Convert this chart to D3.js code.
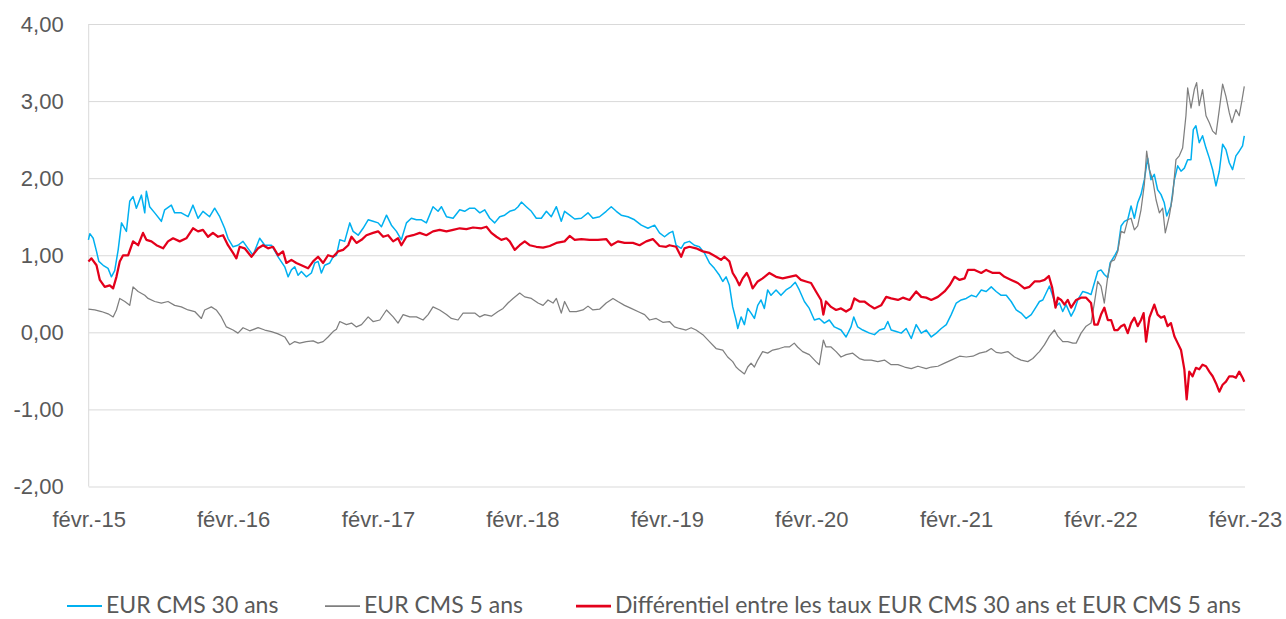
<!DOCTYPE html>
<html>
<head>
<meta charset="utf-8">
<script src="https://cdn.jsdelivr.net/npm/d3@7"></script>
<style>
  body { margin: 0; background: #fff; }
  svg { font-family: Lato, "Noto Sans", sans-serif; }
  .tick text { fill: #595959; }
</style>
</head>
<body>
<div id="chart"></div>
<script>
// series: [decimal year, rate %]
let cms30 = [
  [2015.083,1.20],[2015.093,1.28],[2015.116,1.22],[2015.139,1.05],[2015.155,0.92],[2015.185,0.87],
  [2015.219,0.83],[2015.242,0.72],[2015.265,0.80],[2015.289,1.07],[2015.312,1.42],[2015.346,1.31],
  [2015.369,1.70],[2015.392,1.76],[2015.415,1.61],[2015.450,1.78],[2015.473,1.55],[2015.484,1.83],
  [2015.507,1.63],[2015.542,1.55],[2015.588,1.44],[2015.611,1.59],[2015.657,1.65],[2015.680,1.55],
  [2015.726,1.55],[2015.773,1.50],[2015.807,1.65],[2015.842,1.48],[2015.876,1.57],[2015.922,1.50],
  [2015.957,1.61],[2015.992,1.50],[2016.026,1.35],[2016.049,1.22],[2016.084,1.11],[2016.118,1.13],
  [2016.153,1.18],[2016.187,1.09],[2016.222,1.00],[2016.268,1.22],[2016.303,1.13],[2016.349,1.13],
  [2016.395,0.98],[2016.441,0.85],[2016.464,0.72],[2016.487,0.81],[2016.510,0.85],[2016.533,0.74],
  [2016.556,0.79],[2016.590,0.72],[2016.625,0.77],[2016.648,0.90],[2016.671,0.92],[2016.694,0.77],
  [2016.717,0.87],[2016.752,0.90],[2016.775,0.98],[2016.798,1.00],[2016.821,1.20],[2016.855,1.18],
  [2016.890,1.42],[2016.913,1.31],[2016.948,1.26],[2016.982,1.35],[2017.017,1.46],[2017.051,1.44],
  [2017.086,1.42],[2017.109,1.37],[2017.144,1.52],[2017.178,1.39],[2017.213,1.31],[2017.247,1.20],
  [2017.282,1.42],[2017.316,1.48],[2017.351,1.46],[2017.386,1.46],[2017.420,1.42],[2017.466,1.63],
  [2017.501,1.57],[2017.524,1.63],[2017.559,1.50],[2017.605,1.48],[2017.651,1.59],[2017.685,1.57],
  [2017.720,1.61],[2017.755,1.61],[2017.790,1.55],[2017.824,1.59],[2017.859,1.48],[2017.893,1.42],
  [2017.928,1.50],[2017.962,1.52],[2017.997,1.57],[2018.032,1.59],[2018.055,1.63],[2018.078,1.69],
  [2018.112,1.63],[2018.147,1.57],[2018.181,1.48],[2018.216,1.48],[2018.251,1.57],[2018.285,1.50],
  [2018.320,1.63],[2018.354,1.44],[2018.377,1.57],[2018.412,1.52],[2018.447,1.47],[2018.493,1.48],
  [2018.539,1.55],[2018.573,1.48],[2018.619,1.50],[2018.665,1.57],[2018.700,1.63],[2018.735,1.57],
  [2018.769,1.52],[2018.815,1.50],[2018.861,1.46],[2018.908,1.39],[2018.954,1.35],[2019.000,1.39],
  [2019.034,1.29],[2019.069,1.24],[2019.103,1.29],[2019.126,1.31],[2019.149,1.13],[2019.184,1.09],
  [2019.207,1.16],[2019.241,1.18],[2019.276,1.13],[2019.310,1.11],[2019.345,1.03],[2019.380,0.90],
  [2019.414,0.83],[2019.449,0.74],[2019.472,0.66],[2019.495,0.72],[2019.518,0.61],[2019.541,0.33],
  [2019.564,0.16],[2019.576,0.05],[2019.599,0.20],[2019.622,0.10],[2019.645,0.31],[2019.668,0.25],
  [2019.691,0.18],[2019.714,0.35],[2019.737,0.42],[2019.760,0.31],[2019.783,0.55],[2019.806,0.48],
  [2019.841,0.55],[2019.875,0.48],[2019.910,0.55],[2019.944,0.59],[2019.974,0.65],[2020.002,0.55],
  [2020.037,0.40],[2020.071,0.31],[2020.106,0.16],[2020.140,0.18],[2020.175,0.12],[2020.209,0.16],
  [2020.244,0.07],[2020.290,0.03],[2020.325,-0.06],[2020.359,0.07],[2020.378,0.20],[2020.405,0.07],
  [2020.440,0.03],[2020.487,-0.01],[2020.521,-0.03],[2020.556,0.03],[2020.590,0.05],[2020.613,0.14],
  [2020.636,0.03],[2020.671,0.01],[2020.706,-0.01],[2020.740,0.05],[2020.775,-0.08],[2020.809,0.10],
  [2020.844,-0.01],[2020.878,0.03],[2020.913,-0.06],[2020.948,-0.01],[2020.982,0.05],[2021.017,0.10],
  [2021.051,0.23],[2021.086,0.38],[2021.120,0.42],[2021.155,0.44],[2021.190,0.48],[2021.224,0.46],
  [2021.259,0.55],[2021.293,0.53],[2021.328,0.59],[2021.362,0.53],[2021.397,0.48],[2021.432,0.48],
  [2021.466,0.40],[2021.501,0.29],[2021.535,0.25],[2021.570,0.18],[2021.605,0.23],[2021.639,0.33],
  [2021.662,0.40],[2021.685,0.42],[2021.708,0.51],[2021.731,0.60],[2021.754,0.47],[2021.777,0.34],
  [2021.800,0.38],[2021.823,0.27],[2021.846,0.36],[2021.881,0.21],[2021.904,0.29],[2021.927,0.42],
  [2021.962,0.53],[2021.996,0.51],[2022.019,0.49],[2022.042,0.64],[2022.065,0.79],[2022.088,0.81],
  [2022.111,0.75],[2022.135,0.71],[2022.151,0.90],[2022.181,0.99],[2022.204,1.07],[2022.227,1.38],
  [2022.250,1.44],[2022.273,1.46],[2022.296,1.64],[2022.319,1.48],[2022.342,1.68],[2022.365,1.79],
  [2022.388,1.98],[2022.411,2.26],[2022.434,1.98],[2022.457,2.05],[2022.480,1.85],[2022.503,1.79],
  [2022.526,1.68],[2022.543,1.51],[2022.572,1.64],[2022.596,1.98],[2022.619,2.16],[2022.642,2.09],
  [2022.665,2.13],[2022.688,2.24],[2022.711,2.24],[2022.727,2.63],[2022.745,2.68],[2022.768,2.46],
  [2022.791,2.55],[2022.815,2.39],[2022.838,2.26],[2022.861,2.11],[2022.884,1.90],[2022.907,2.09],
  [2022.930,2.44],[2022.953,2.37],[2022.976,2.20],[2022.999,2.11],[2023.022,2.29],[2023.045,2.35],
  [2023.068,2.42],[2023.080,2.55]
];

let cms5 = [
  [2015.083,0.30],[2015.127,0.29],[2015.173,0.27],[2015.219,0.24],[2015.254,0.20],[2015.277,0.29],
  [2015.300,0.44],[2015.335,0.40],[2015.369,0.35],[2015.392,0.59],[2015.427,0.53],[2015.473,0.48],
  [2015.496,0.44],[2015.542,0.40],[2015.588,0.38],[2015.634,0.40],[2015.680,0.35],[2015.726,0.33],
  [2015.773,0.29],[2015.819,0.27],[2015.865,0.18],[2015.888,0.29],[2015.934,0.33],[2015.968,0.29],
  [2016.003,0.20],[2016.038,0.07],[2016.084,0.03],[2016.118,-0.01],[2016.153,0.06],[2016.199,0.02],
  [2016.257,0.06],[2016.303,0.03],[2016.349,0.01],[2016.395,-0.02],[2016.441,-0.06],[2016.475,-0.16],
  [2016.510,-0.12],[2016.544,-0.14],[2016.590,-0.12],[2016.637,-0.11],[2016.671,-0.14],[2016.706,-0.12],
  [2016.740,-0.06],[2016.775,0.01],[2016.798,0.04],[2016.821,0.14],[2016.867,0.10],[2016.902,0.12],
  [2016.936,0.07],[2016.971,0.10],[2017.017,0.20],[2017.051,0.14],[2017.098,0.16],[2017.144,0.29],
  [2017.190,0.20],[2017.224,0.12],[2017.259,0.23],[2017.305,0.20],[2017.351,0.20],[2017.397,0.16],
  [2017.432,0.23],[2017.466,0.33],[2017.512,0.29],[2017.559,0.23],[2017.593,0.18],[2017.639,0.16],
  [2017.674,0.25],[2017.720,0.25],[2017.755,0.25],[2017.790,0.20],[2017.824,0.23],[2017.870,0.21],
  [2017.916,0.27],[2017.951,0.31],[2017.985,0.38],[2018.020,0.44],[2018.066,0.51],[2018.101,0.46],
  [2018.147,0.44],[2018.193,0.38],[2018.228,0.35],[2018.262,0.42],[2018.297,0.38],[2018.320,0.44],
  [2018.354,0.25],[2018.377,0.40],[2018.412,0.27],[2018.458,0.27],[2018.504,0.29],[2018.539,0.34],
  [2018.573,0.29],[2018.619,0.30],[2018.665,0.38],[2018.712,0.44],[2018.746,0.40],[2018.792,0.35],
  [2018.838,0.31],[2018.884,0.27],[2018.931,0.23],[2018.965,0.16],[2019.011,0.18],[2019.057,0.13],
  [2019.103,0.14],[2019.138,0.07],[2019.172,0.05],[2019.218,0.03],[2019.253,0.06],[2019.287,0.03],
  [2019.334,-0.03],[2019.380,-0.12],[2019.426,-0.21],[2019.472,-0.23],[2019.506,-0.32],[2019.541,-0.38],
  [2019.564,-0.45],[2019.587,-0.49],[2019.622,-0.54],[2019.645,-0.45],[2019.668,-0.40],[2019.691,-0.45],
  [2019.714,-0.36],[2019.748,-0.25],[2019.783,-0.27],[2019.818,-0.23],[2019.864,-0.21],[2019.898,-0.19],
  [2019.933,-0.19],[2019.967,-0.14],[2019.990,-0.19],[2020.025,-0.25],[2020.071,-0.29],[2020.117,-0.38],
  [2020.140,-0.42],[2020.168,-0.10],[2020.186,-0.19],[2020.221,-0.19],[2020.256,-0.25],[2020.290,-0.32],
  [2020.325,-0.29],[2020.371,-0.27],[2020.417,-0.34],[2020.451,-0.36],[2020.498,-0.36],[2020.544,-0.38],
  [2020.590,-0.36],[2020.636,-0.42],[2020.683,-0.42],[2020.729,-0.45],[2020.775,-0.47],[2020.821,-0.44],
  [2020.878,-0.47],[2020.913,-0.45],[2020.959,-0.44],[2021.005,-0.40],[2021.051,-0.36],[2021.109,-0.31],
  [2021.155,-0.32],[2021.201,-0.31],[2021.247,-0.27],[2021.293,-0.25],[2021.328,-0.21],[2021.362,-0.26],
  [2021.397,-0.27],[2021.443,-0.25],[2021.489,-0.32],[2021.535,-0.36],[2021.581,-0.38],[2021.616,-0.34],
  [2021.651,-0.27],[2021.662,-0.25],[2021.697,-0.16],[2021.731,-0.05],[2021.766,0.03],[2021.789,-0.05],
  [2021.823,-0.12],[2021.858,-0.12],[2021.893,-0.14],[2021.916,-0.14],[2021.950,-0.01],[2021.985,0.08],
  [2022.019,0.12],[2022.042,0.38],[2022.065,0.66],[2022.088,0.60],[2022.111,0.38],[2022.135,0.73],
  [2022.158,0.92],[2022.181,0.94],[2022.204,1.05],[2022.227,1.31],[2022.250,1.29],[2022.273,1.46],
  [2022.296,1.48],[2022.319,1.33],[2022.342,1.38],[2022.365,1.59],[2022.388,1.92],[2022.404,2.35],
  [2022.423,2.11],[2022.446,1.98],[2022.469,1.72],[2022.492,1.55],[2022.515,1.61],[2022.533,1.29],
  [2022.561,1.51],[2022.584,1.77],[2022.607,2.24],[2022.630,2.29],[2022.653,2.39],[2022.676,2.81],
  [2022.688,3.17],[2022.711,2.91],[2022.734,3.15],[2022.750,3.24],[2022.768,2.94],[2022.791,3.15],
  [2022.815,2.81],[2022.838,2.72],[2022.861,2.61],[2022.884,2.57],[2022.907,2.89],[2022.930,3.22],
  [2022.953,3.06],[2022.976,2.85],[2022.994,2.72],[2023.022,2.89],[2023.045,2.81],[2023.063,3.00],
  [2023.080,3.19]
];

let spread = [
  [2015.083,0.92],[2015.104,0.96],[2015.139,0.87],[2015.162,0.68],[2015.196,0.59],[2015.231,0.61],
  [2015.254,0.57],[2015.277,0.72],[2015.300,0.92],[2015.323,1.00],[2015.358,1.00],[2015.392,1.18],
  [2015.427,1.13],[2015.461,1.29],[2015.484,1.20],[2015.519,1.18],[2015.554,1.13],[2015.600,1.09],
  [2015.634,1.18],[2015.669,1.22],[2015.715,1.18],[2015.761,1.22],[2015.807,1.35],[2015.842,1.31],
  [2015.876,1.33],[2015.911,1.24],[2015.945,1.29],[2015.980,1.24],[2016.015,1.26],[2016.049,1.13],
  [2016.084,1.03],[2016.107,0.96],[2016.130,1.11],[2016.164,1.09],[2016.211,0.98],[2016.257,1.09],
  [2016.291,1.13],[2016.326,1.09],[2016.360,1.11],[2016.395,1.00],[2016.429,1.05],[2016.452,0.90],
  [2016.487,0.94],[2016.521,0.90],[2016.556,0.87],[2016.602,0.83],[2016.637,0.92],[2016.671,0.98],
  [2016.706,0.90],[2016.740,1.00],[2016.775,0.98],[2016.809,1.05],[2016.844,1.07],[2016.879,1.13],
  [2016.902,1.24],[2016.936,1.16],[2016.971,1.20],[2017.005,1.26],[2017.051,1.29],[2017.086,1.31],
  [2017.121,1.24],[2017.155,1.26],[2017.190,1.18],[2017.224,1.22],[2017.247,1.13],[2017.282,1.24],
  [2017.328,1.26],[2017.374,1.29],[2017.420,1.26],[2017.466,1.31],[2017.512,1.33],[2017.559,1.31],
  [2017.605,1.33],[2017.651,1.35],[2017.697,1.34],[2017.743,1.36],[2017.801,1.35],[2017.836,1.37],
  [2017.870,1.29],[2017.905,1.24],[2017.939,1.20],[2017.974,1.22],[2017.997,1.18],[2018.032,1.07],
  [2018.066,1.13],[2018.101,1.18],[2018.135,1.13],[2018.181,1.11],[2018.228,1.10],[2018.274,1.12],
  [2018.320,1.16],[2018.377,1.18],[2018.412,1.25],[2018.447,1.20],[2018.493,1.21],[2018.550,1.20],
  [2018.608,1.20],[2018.665,1.21],[2018.700,1.13],[2018.746,1.18],[2018.792,1.16],[2018.850,1.16],
  [2018.896,1.13],[2018.942,1.18],[2018.988,1.21],[2019.034,1.12],[2019.080,1.11],[2019.103,1.13],
  [2019.149,1.11],[2019.184,0.98],[2019.207,1.09],[2019.241,1.11],[2019.287,1.09],[2019.334,1.05],
  [2019.380,1.03],[2019.426,0.98],[2019.460,0.94],[2019.483,0.98],[2019.518,0.92],[2019.541,0.77],
  [2019.564,0.70],[2019.587,0.61],[2019.610,0.70],[2019.638,0.77],[2019.656,0.70],[2019.679,0.57],
  [2019.714,0.66],[2019.748,0.70],[2019.795,0.77],[2019.841,0.72],[2019.887,0.70],[2019.933,0.72],
  [2019.979,0.74],[2020.013,0.68],[2020.048,0.66],[2020.083,0.64],[2020.117,0.53],[2020.152,0.42],
  [2020.168,0.23],[2020.186,0.40],[2020.221,0.33],[2020.256,0.29],[2020.290,0.31],[2020.325,0.27],
  [2020.359,0.31],[2020.382,0.44],[2020.417,0.40],[2020.451,0.40],[2020.487,0.35],[2020.521,0.31],
  [2020.567,0.35],[2020.602,0.46],[2020.636,0.44],[2020.683,0.42],[2020.717,0.45],[2020.763,0.42],
  [2020.809,0.53],[2020.844,0.46],[2020.878,0.45],[2020.913,0.42],[2020.959,0.46],[2021.005,0.53],
  [2021.040,0.61],[2021.074,0.72],[2021.109,0.68],[2021.144,0.70],[2021.167,0.81],[2021.213,0.81],
  [2021.259,0.77],[2021.293,0.81],[2021.339,0.77],[2021.386,0.77],[2021.420,0.72],[2021.466,0.68],
  [2021.512,0.64],[2021.558,0.57],[2021.593,0.59],[2021.628,0.66],[2021.662,0.66],[2021.697,0.68],
  [2021.727,0.73],[2021.750,0.58],[2021.773,0.32],[2021.789,0.45],[2021.812,0.42],[2021.835,0.36],
  [2021.858,0.42],[2021.881,0.32],[2021.916,0.42],[2021.950,0.45],[2021.985,0.45],[2022.019,0.38],
  [2022.042,0.10],[2022.065,0.10],[2022.088,0.23],[2022.111,0.32],[2022.135,0.16],[2022.158,0.16],
  [2022.181,0.03],[2022.204,0.03],[2022.227,0.08],[2022.250,0.10],[2022.273,-0.01],[2022.296,0.12],
  [2022.319,0.19],[2022.342,0.08],[2022.365,0.16],[2022.383,0.25],[2022.400,-0.12],[2022.423,0.19],
  [2022.457,0.36],[2022.480,0.23],[2022.503,0.19],[2022.526,0.21],[2022.549,0.08],[2022.572,0.12],
  [2022.596,-0.05],[2022.619,-0.14],[2022.642,-0.23],[2022.665,-0.48],[2022.681,-0.87],[2022.699,-0.51],
  [2022.722,-0.57],[2022.745,-0.46],[2022.768,-0.48],[2022.791,-0.42],[2022.815,-0.44],[2022.838,-0.51],
  [2022.861,-0.57],[2022.884,-0.66],[2022.907,-0.77],[2022.930,-0.68],[2022.953,-0.64],[2022.976,-0.57],
  [2022.999,-0.57],[2023.022,-0.59],[2023.045,-0.51],[2023.068,-0.59],[2023.080,-0.64]
];

let seriesNames = ["EUR CMS 30 ans", "EUR CMS 5 ans", "Différentiel entre les taux EUR CMS 30 ans et EUR CMS 5 ans"];
let yTicks = [-2, -1, 0, 1, 2, 3, 4];
let xTickYears = [2015, 2016, 2017, 2018, 2019, 2020, 2021, 2022, 2023];

let width = 1286;
let height = 619;
let plotLeft = 88.7, plotRight = 1245, plotTop = 24, plotBottom = 486.5;

let fr = d3.formatLocale({ decimal: ",", thousands: " ", grouping: [3], currency: ["", " €"], minus: "-" });
let frTime = d3.timeFormatLocale({
  dateTime: "%A %e %B %Y à %X", date: "%d/%m/%Y", time: "%H:%M:%S", periods: ["AM", "PM"],
  days: ["dimanche","lundi","mardi","mercredi","jeudi","vendredi","samedi"],
  shortDays: ["dim.","lun.","mar.","mer.","jeu.","ven.","sam."],
  months: ["janvier","février","mars","avril","mai","juin","juillet","août","septembre","octobre","novembre","décembre"],
  shortMonths: ["janv.","févr.","mars","avr.","mai","juin","juil.","août","sept.","oct.","nov.","déc."]
});

function toDate(t) {
  let y = Math.floor(t);
  let a = Date.UTC(y, 0, 1), b = Date.UTC(y + 1, 0, 1);
  return new Date(a + (t - y) * (b - a));
}

let svg = d3.select("#chart").append("svg")
  .attr("width", width)
  .attr("height", height);

let xScale = d3.scaleUtc()
  .domain([new Date(Date.UTC(2015, 1, 1)), new Date(Date.UTC(2023, 1, 1))])
  .range([plotLeft, plotRight]);

let yScale = d3.scaleLinear()
  .domain([-2, 4])
  .range([plotBottom, plotTop]);

// gridlines + y labels
let yAxis = d3.axisLeft(yScale)
  .tickValues(yTicks)
  .tickSize(-(plotRight - plotLeft))
  .tickPadding(25)
  .tickFormat(fr.format(".2f"));

let gy = svg.append("g")
  .attr("transform", "translate(" + plotLeft + ",0)")
  .call(yAxis);
gy.select(".domain").remove();
gy.selectAll(".tick line").attr("stroke", "#d9d9d9").attr("stroke-width", 1);
gy.selectAll(".tick text").attr("font-size", 22);

// vertical axis line
svg.append("line")
  .attr("x1", plotLeft).attr("x2", plotLeft)
  .attr("y1", plotTop).attr("y2", plotBottom)
  .attr("stroke", "#d9d9d9");

let xAxis = d3.axisBottom(xScale)
  .tickValues(xTickYears.map(y => new Date(Date.UTC(y, 1, 1))))
  .tickSize(0)
  .tickPadding(25)
  .tickFormat(frTime.utcFormat("%b-%y"));

let gx = svg.append("g")
  .attr("transform", "translate(0," + plotBottom + ")")
  .call(xAxis);
gx.select(".domain").remove();
gx.selectAll(".tick text").attr("font-size", 22);

let line = d3.line()
  .x(d => xScale(toDate(d[0])))
  .y(d => yScale(d[1]));

let colors = ["#00b0f0", "#7f7f7f", "#e3001b"];
let widths = [1.5, 1.25, 2.25];
let allSeries = [cms30, cms5, spread];

allSeries.forEach(function(s, i) {
  svg.append("path")
    .datum(s)
    .attr("fill", "none")
    .attr("stroke", colors[i])
    .attr("stroke-width", widths[i])
    .attr("stroke-linejoin", "round")
    .attr("d", line);
});

// legend
let legendX = [67, 325, 576];
let legY = 605;
let legend = svg.append("g");
seriesNames.forEach(function(name, i) {
  legend.append("line")
    .attr("x1", legendX[i]).attr("x2", legendX[i] + 35)
    .attr("y1", legY + 1).attr("y2", legY + 1)
    .attr("stroke", colors[i])
    .attr("stroke-width", widths[i] + 0.5);
  legend.append("text")
    .attr("x", legendX[i] + 39)
    .attr("y", legY)
    .attr("dy", "0.35em")
    .attr("font-size", 23)
    .attr("fill", "#595959")
    .text(name);
});
</script>
</body>
</html>
